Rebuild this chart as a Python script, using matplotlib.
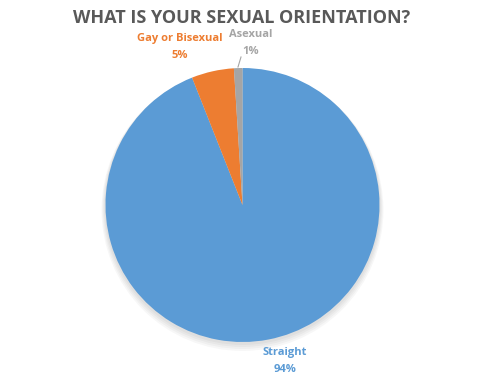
import matplotlib.pyplot as plt
from matplotlib.patches import Circle

# Datos
categories = ['Straight', 'Gay or Bisexual', 'Asexual']
values = [94, 5, 1]
colors = ['#5B9BD5', '#ED7D31', '#A5A5A5']

plt.rcParams['font.family'] = ['Open Sans', 'DejaVu Sans']

fig = plt.figure(figsize=(4.88, 3.77), dpi=100)
W, H = 488, 377
cx, cy, r = 242.5, 205, 137
ax = fig.add_axes([(cx - r) / W, (H - cy - r) / H, 2 * r / W, 2 * r / H])

# Sombra suave debajo del pastel
for off in [5, 4, 3, 2]:
    ax.add_patch(Circle((0, -off / r), 1 + (off - 1) / r, color='black', alpha=0.03,
                        linewidth=0, zorder=0, clip_on=False))

ax.pie(values, colors=colors, startangle=90, counterclock=False, radius=1,
       wedgeprops=dict(linewidth=0, zorder=2))
ax.set_xlim(-1, 1)
ax.set_ylim(-1, 1)
ax.set_aspect('equal')
ax.axis('off')


def px(x, y):
    # pixel -> coordenadas de datos
    return (x - cx) / r, (cy - y) / r


# Etiquetas
label_pos = {'Straight': (285, 361), 'Gay or Bisexual': (180, 47), 'Asexual': (251, 43)}
for cat, val, col in zip(categories, values, colors):
    x, y = px(*label_pos[cat])
    ax.text(x, y, f'{cat}\n{val}%', color=col, fontsize=8, fontweight='bold',
            ha='center', va='center', linespacing=1.65, clip_on=False)

# Línea guía para Asexual
x0, y0 = px(238, 67)
x1, y1 = px(241, 57)
ax.plot([x0, x1], [y0, y1], color='#A5A5A5', linewidth=0.8, clip_on=False)

fig.text(242 / W, 1 - 18 / H, 'WHAT IS YOUR SEXUAL ORIENTATION?', ha='center', va='center',
         fontsize=13, fontweight='bold', color='#595959')

fig.savefig('out.png', dpi=100)
plt.close()
